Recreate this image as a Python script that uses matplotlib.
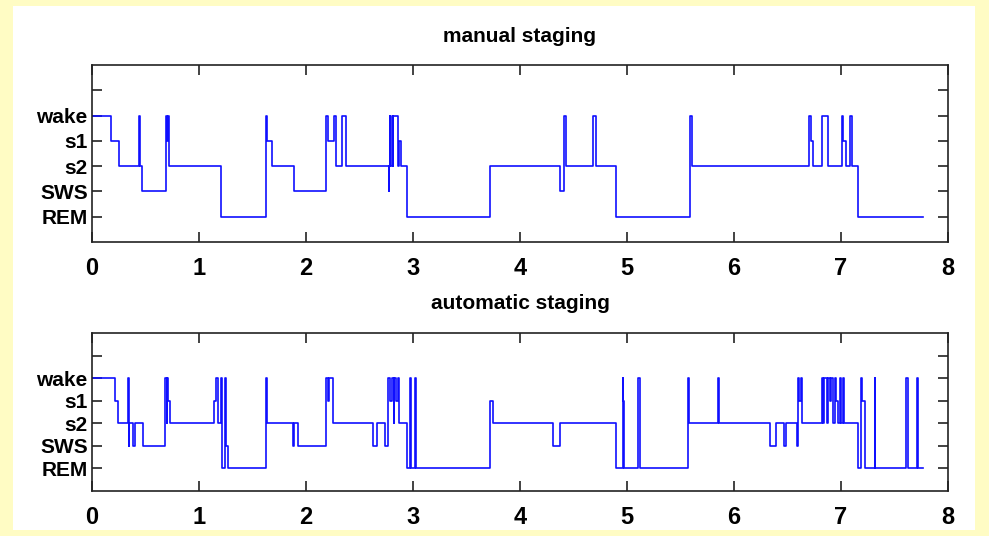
import matplotlib
matplotlib.use("Agg")
import matplotlib.pyplot as plt

# stage codes: REM=1, SWS=2, s2=3, s1=4, wake=5
stage_labels = ["REM", "SWS", "s2", "s1", "wake", ""]
stage_ticks = [1, 2, 3, 4, 5, 6]

# manual staging: change points (hours) and stage from that point on
manual_t = [0, 0.18, 0.25, 0.44, 0.45, 0.47, 0.69, 0.705, 0.715, 0.72,
            1.21, 1.63, 1.64, 1.68, 1.89, 2.19, 2.21, 2.26, 2.28, 2.34,
            2.37, 2.775, 2.78, 2.785, 2.79, 2.80, 2.81, 2.815, 2.86, 2.865,
            2.89, 2.94, 3.72, 4.37, 4.415, 4.43, 4.685, 4.71, 4.90, 5.59,
            5.605, 6.70, 6.72, 6.74, 6.82, 6.88, 7.01, 7.02, 7.05, 7.08,
            7.10, 7.16, 7.77]
manual_s = [5, 4, 3, 5, 3, 2, 5, 4, 5, 3,
            1, 5, 4, 3, 2, 5, 4, 5, 3, 5,
            3, 2, 3, 5, 3, 5, 3, 5, 3, 4,
            3, 1, 3, 2, 5, 3, 5, 3, 1, 5,
            3, 5, 4, 3, 5, 3, 5, 4, 3, 5,
            3, 1, 1]

# automatic staging
auto_t = [0, 0.215, 0.245, 0.34, 0.345, 0.35, 0.38, 0.40, 0.48, 0.68,
          0.70, 0.705, 0.715, 0.725, 1.14, 1.16, 1.175, 1.205, 1.215, 1.245,
          1.255, 1.27, 1.63, 1.64, 1.875, 1.89, 1.93, 2.19, 2.205, 2.215,
          2.25, 2.63, 2.66, 2.74, 2.765, 2.79, 2.80, 2.82, 2.825, 2.84,
          2.86, 2.87, 2.94, 2.975, 2.985, 3.02, 3.03, 3.72, 3.75, 4.31,
          4.37, 4.90, 4.96, 4.965, 4.975, 5.10, 5.12, 5.57, 5.58, 5.85,
          5.86, 6.34, 6.39, 6.47, 6.49, 6.59, 6.60, 6.61, 6.63, 6.64,
          6.82, 6.835, 6.845, 6.87, 6.88, 6.90, 6.91, 6.93, 6.945, 6.955,
          6.975, 6.99, 7.00, 7.02, 7.03, 7.16, 7.19, 7.195, 7.225, 7.315,
          7.32, 7.61, 7.625, 7.71, 7.72, 7.77]
auto_s = [5, 4, 3, 5, 2, 3, 2, 3, 2, 5,
          3, 5, 4, 3, 4, 5, 3, 5, 1, 5,
          2, 1, 5, 3, 2, 3, 2, 5, 4, 5,
          3, 2, 3, 2, 5, 4, 5, 3, 5, 4,
          5, 3, 1, 5, 1, 5, 1, 4, 3, 2,
          3, 1, 5, 4, 1, 5, 1, 5, 3, 5,
          3, 2, 3, 2, 3, 2, 5, 4, 5, 3,
          5, 3, 5, 3, 5, 4, 5, 3, 5, 4,
          3, 5, 3, 5, 3, 1, 5, 4, 1, 5,
          1, 5, 1, 5, 1, 1]

titles = ["manual staging", "automatic staging"]

font = ["Liberation Sans Narrow", "Liberation Sans", "DejaVu Sans"]

fig = plt.figure(figsize=(9.89, 5.36), dpi=100, facecolor="#fffcc4")

# white slide area behind the plots
bg = fig.add_axes([13 / 989, 1 - 530 / 536, (975 - 13) / 989, (530 - 6) / 536], zorder=-5)
bg.set_facecolor("white")
bg.set_xticks([])
bg.set_yticks([])
for sp in bg.spines.values():
    sp.set_visible(False)

ax1 = fig.add_axes([0.093, 0.5485, 0.8655, 0.330])
ax2 = fig.add_axes([0.093, 0.084, 0.8655, 0.2948])

for ax, t, s, title in [(ax1, manual_t, manual_s, titles[0]),
                        (ax2, auto_t, auto_s, titles[1])]:
    ax.step(t, s, where="post", color="#0f0fff", lw=1.2)
    ax.set_xlim(0, 8)
    ax.set_ylim(0, 7)
    ax.set_xticks(range(9))
    ax.set_yticks(stage_ticks)
    ax.set_yticklabels(stage_labels)
    ax.tick_params(direction="in", top=True, right=True, length=7, width=1.2,
                   color="#222222")
    ax.tick_params(axis="x", pad=11)
    ax.tick_params(axis="y", pad=3)
    for lab in ax.get_xticklabels() + ax.get_yticklabels():
        lab.set_family(font)
        lab.set_fontweight("bold")
        lab.set_fontsize(17)
    for lab in ax.get_yticklabels():
        lab.set_fontsize(15)
    for sp in ax.spines.values():
        sp.set_linewidth(1.2)
        sp.set_color("#222222")
    ax.set_title(title, family=font, fontweight="bold", fontsize=15, pad=17)

fig.savefig("out.png", dpi=100, facecolor=fig.get_facecolor())
